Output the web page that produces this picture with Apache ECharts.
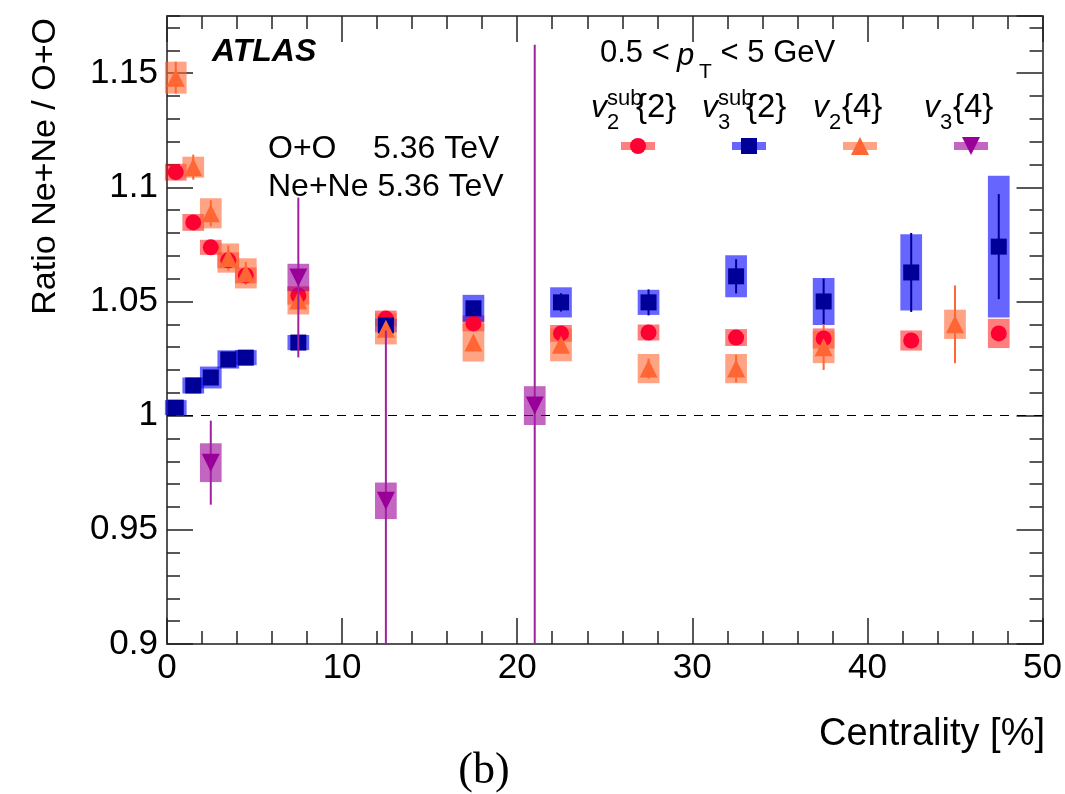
<!DOCTYPE html>
<html>
<head>
<meta charset="utf-8">
<script src="https://cdn.jsdelivr.net/npm/echarts@6/dist/echarts.min.js"></script>
<style>
  html, body { margin: 0; padding: 0; background: #fff; }
  #chart { width: 1065px; height: 794px; }
</style>
</head>
<body>
<div id="chart"></div>
<script>
// ---------------- data ----------------
const xTickLabels = ['0', '10', '20', '30', '40', '50'];
const yTickLabels = ['0.9', '0.95', '1', '1.05', '1.1', '1.15'];

const v2sub2_cent  = [0.5, 1.5, 2.5, 3.5, 4.5, 7.5, 12.5, 17.5, 22.5, 27.5, 32.5, 37.5, 42.5, 47.5];
const v2sub2_ratio = [1.1066, 1.0846, 1.0737, 1.068, 1.0614, 1.0526, 1.0425, 1.0404, 1.036, 1.0364, 1.0342, 1.0338, 1.0329, 1.036];
const v2sub2_stat  = [0.001, 0.001, 0.001, 0.001, 0.001, 0.001, 0.001, 0.001, 0.001, 0.001, 0.001, 0.001, 0.001, 0.001];
const v2sub2_syst  = [0.0037, 0.0037, 0.0033, 0.0035, 0.0035, 0.004, 0.0035, 0.0035, 0.0037, 0.0035, 0.0037, 0.0044, 0.0044, 0.0064];

const v3sub2_cent  = [0.5, 1.5, 2.5, 3.5, 4.5, 7.5, 12.5, 17.5, 22.5, 27.5, 32.5, 37.5, 42.5, 47.5];
const v3sub2_ratio = [1.0035, 1.0132, 1.0167, 1.0246, 1.0254, 1.032, 1.0395, 1.047, 1.0496, 1.0496, 1.061, 1.050, 1.0627, 1.074];
const v3sub2_stat  = [0.001, 0.001, 0.001, 0.001, 0.001, 0.001, 0.001, 0.002, 0.004, 0.0057, 0.0075, 0.010, 0.0173, 0.023];
const v3sub2_syst  = [0.0033, 0.0035, 0.0048, 0.004, 0.0033, 0.0033, 0.003, 0.0059, 0.0066, 0.0055, 0.0092, 0.0103, 0.0167, 0.031];

const v24_cent  = [0.5, 1.5, 2.5, 3.5, 4.5, 7.5, 12.5, 17.5, 22.5, 27.5, 32.5, 37.5, 45];
const v24_ratio = [1.148, 1.1088, 1.0886, 1.069, 1.0623, 1.0504, 1.038, 1.032, 1.031, 1.0206, 1.0206, 1.030, 1.040];
const v24_stat  = [0.007, 0.0055, 0.0057, 0.0055, 0.005, 0.003, 0.003, 0.002, 0.002, 0.0044, 0.006, 0.010, 0.017];
const v24_syst  = [0.007, 0.0046, 0.0066, 0.0064, 0.0066, 0.0061, 0.0068, 0.0083, 0.0072, 0.0064, 0.0064, 0.007, 0.0064];

const v34_cent  = [2.5, 7.5, 12.5, 21];
const v34_ratio = [0.9794, 1.0605, 0.9627, 1.0044];
const v34_stat  = [0.0184, 0.035, 0.0746, 0.158];
const v34_syst  = [0.0085, 0.006, 0.008, 0.0085];

const referenceRatio = 1;

// ---------------- styling ----------------
const X_MIN = 0, X_MAX = 50, Y_MIN = 0.9, Y_MAX = 1.175;
const BOX_HALF_W = 0.62;
const FONT = '"Liberation Sans", Arial, Helvetica, sans-serif';

const C = {
  red:    { mark: '#ff0033', box: 'rgba(255,0,0,0.5)',     line: '#ff0033' },
  blue:   { mark: '#000099', box: 'rgba(0,0,255,0.6)',     line: '#000099' },
  orange: { mark: '#ff6633', box: 'rgba(255,102,51,0.6)',  line: '#ff6633' },
  purple: { mark: '#990099', box: 'rgba(153,0,153,0.6)',   line: '#a020a0' }
};

function boxSeries(xs, ys, hs, color, z) {
  return {
    type: 'custom', z: z, silent: true, animation: false,
    xAxisIndex: 0, yAxisIndex: 0,
    data: xs.map((x, i) => [x, ys[i], hs[i]]),
    renderItem: function (params, api) {
      const x = api.value(0), y = api.value(1), h = api.value(2);
      const p1 = api.coord([x - BOX_HALF_W, Math.min(Y_MAX, y + h)]);
      const p2 = api.coord([x + BOX_HALF_W, Math.max(Y_MIN, y - h)]);
      return { type: 'rect', shape: { x: p1[0], y: p1[1], width: p2[0] - p1[0], height: p2[1] - p1[1] },
               style: { fill: color } };
    }
  };
}
function errSeries(xs, ys, es, color, z) {
  return {
    type: 'custom', z: z, silent: true, animation: false,
    xAxisIndex: 0, yAxisIndex: 0,
    data: xs.map((x, i) => [x, ys[i], es[i]]),
    renderItem: function (params, api) {
      const x = api.value(0), y = api.value(1), e = api.value(2);
      const p1 = api.coord([x, Math.min(Y_MAX, y + e)]);
      const p2 = api.coord([x, Math.max(Y_MIN, y - e)]);
      return { type: 'line', shape: { x1: p1[0], y1: p1[1], x2: p2[0], y2: p2[1] },
               style: { stroke: color, lineWidth: 2 } };
    }
  };
}
function markSeries(xs, ys, symbol, size, color, z, rotate) {
  return {
    type: 'scatter', z: z, silent: true, animation: false,
    xAxisIndex: 0, yAxisIndex: 0,
    data: xs.map((x, i) => [x, ys[i]]),
    symbol: symbol, symbolSize: size, symbolRotate: rotate || 0,
    itemStyle: { color: color, opacity: 1 }
  };
}

const tickStyle = { color: '#222', width: 1.5 };
const lineStyle = { color: '#555', width: 2 };
const fmt = v => { const s = String(+(+v).toFixed(3)); return yTickLabels.indexOf(s) >= 0 ? s : ''; };
const fmtX = v => { const s = String(+(+v).toFixed(3)); return xTickLabels.indexOf(s) >= 0 ? s : ''; };

function yAx(pos, interval, len, showLine, showLabel) {
  return {
    type: 'value', position: pos, min: Y_MIN, max: Y_MAX, interval: interval,
    splitLine: { show: false },
    axisLine: { show: showLine, onZero: false, lineStyle: lineStyle },
    axisTick: { show: true, inside: true, length: len, lineStyle: tickStyle },
    axisLabel: { show: showLabel, margin: 9, fontSize: 35, color: '#000', fontFamily: FONT,
                 formatter: fmt, showMaxLabel: false }
  };
}
function xAx(pos, showLabel) {
  return {
    type: 'value', position: pos, min: X_MIN, max: X_MAX, interval: 10,
    splitLine: { show: false },
    axisLine: { show: true, onZero: false, lineStyle: lineStyle },
    axisTick: { show: true, inside: true, length: 26, lineStyle: tickStyle },
    minorTick: { show: true, splitNumber: 5, length: 13, lineStyle: tickStyle },
    axisLabel: { show: showLabel, margin: 7, fontSize: 35, color: '#000', fontFamily: FONT, formatter: fmtX }
  };
}

// ---------------- annotation text ----------------
function txt(x, y, s, size, opts) {
  opts = opts || {};
  return { type: 'text', x: x, y: y, rotation: opts.rotation || 0, z: 100,
    style: { text: s, fill: '#000', align: opts.align || 'left', verticalAlign: 'middle',
             font: (opts.style || '') + ' ' + size + 'px ' + (opts.family || FONT) } };
}
const graphics = [
  txt(212, 52, 'ATLAS', 32, { style: 'italic bold' }),
  txt(600, 53, '0.5 < ', 31),
  txt(677, 56, 'p', 31, { style: 'italic' }),
  txt(699, 72, 'T', 21),
  txt(712, 53, ' < 5 GeV', 31),
  txt(268, 149, 'O+O', 32),
  txt(373, 149, '5.36 TeV', 32),
  txt(268, 187, 'Ne+Ne 5.36 TeV', 32),
  // legend labels
  txt(591, 108, 'v', 32, { style: 'italic' }), txt(607, 99, 'sub', 22), txt(607, 123, '2', 22), txt(636, 108, '{2}', 33),
  txt(702, 108, 'v', 32, { style: 'italic' }), txt(718, 99, 'sub', 22), txt(718, 123, '3', 22), txt(746, 108, '{2}', 33),
  txt(813, 108, 'v', 32, { style: 'italic' }), txt(829, 123, '2', 22), txt(842, 108, '{4}', 33),
  txt(924, 108, 'v', 32, { style: 'italic' }), txt(940, 123, '3', 22), txt(953, 108, '{4}', 33),
  // legend symbols
  { type: 'rect', z: 100, shape: { x: 621, y: 142, width: 34, height: 8 }, style: { fill: C.red.box } },
  { type: 'circle', z: 101, shape: { cx: 638, cy: 146, r: 8 }, style: { fill: C.red.mark } },
  { type: 'rect', z: 100, shape: { x: 732, y: 142, width: 34, height: 8 }, style: { fill: C.blue.box } },
  { type: 'rect', z: 101, shape: { x: 741, y: 138, width: 16, height: 16 }, style: { fill: C.blue.mark } },
  { type: 'rect', z: 100, shape: { x: 843, y: 142, width: 34, height: 8 }, style: { fill: C.orange.box } },
  { type: 'polygon', z: 101, shape: { points: [[860, 137], [869, 155], [851, 155]] }, style: { fill: C.orange.mark } },
  { type: 'rect', z: 100, shape: { x: 954, y: 142, width: 34, height: 8 }, style: { fill: C.purple.box } },
  { type: 'polygon', z: 101, shape: { points: [[962, 137], [980, 137], [971, 155]] }, style: { fill: C.purple.mark } },
  // axis titles
  txt(46, 18, 'Ratio Ne+Ne / O+O', 34, { rotation: Math.PI / 2, align: 'right' }),
  txt(1045, 735, 'Centrality [%]', 38, { align: 'right' }),
  txt(484, 771, '(b)', 44, { align: 'center', family: '"Liberation Serif", "DejaVu Serif", serif' })
];

// ---------------- chart ----------------
const chart = echarts.init(document.getElementById('chart'), null, { renderer: 'canvas' });
chart.setOption({
  animation: false,
  backgroundColor: '#fff',
  textStyle: { fontFamily: FONT },
  grid: { left: 167, right: 22, top: 16, bottom: 150, containLabel: false },
  xAxis: [ xAx('bottom', true), xAx('top', false) ],
  yAxis: [
    yAx('left', 0.05, 26, true, true),
    yAx('left', 0.01, 13, false, false),
    yAx('right', 0.05, 26, true, false),
    yAx('right', 0.01, 13, false, false)
  ],
  series: [
    Object.assign(markSeries([], [], 'none', 0, '#000', 1), {
      markLine: { silent: true, symbol: ['none', 'none'], label: { show: false },
                  lineStyle: { type: [9, 8], color: '#000', width: 1 },
                  data: [{ yAxis: referenceRatio }] }
    }),
    boxSeries(v2sub2_cent, v2sub2_ratio, v2sub2_syst, C.red.box, 2),
    boxSeries(v3sub2_cent, v3sub2_ratio, v3sub2_syst, C.blue.box, 2),
    boxSeries(v24_cent, v24_ratio, v24_syst, C.orange.box, 2),
    errSeries(v2sub2_cent, v2sub2_ratio, v2sub2_stat, C.red.line, 3),
    errSeries(v3sub2_cent, v3sub2_ratio, v3sub2_stat, C.blue.line, 3),
    errSeries(v24_cent, v24_ratio, v24_stat, C.orange.line, 3),
    markSeries(v2sub2_cent, v2sub2_ratio, 'circle', 16, C.red.mark, 4),
    markSeries(v3sub2_cent, v3sub2_ratio, 'rect', 16, C.blue.mark, 4),
    markSeries(v24_cent, v24_ratio, 'triangle', 18, C.orange.mark, 4),
    boxSeries(v34_cent, v34_ratio, v34_syst, C.purple.box, 5),
    errSeries(v34_cent, v34_ratio, v34_stat, C.purple.line, 6),
    markSeries(v34_cent, v34_ratio, 'triangle', 18, C.purple.mark, 7, 180)
  ],
  graphic: graphics
});
</script>
</body>
</html>
